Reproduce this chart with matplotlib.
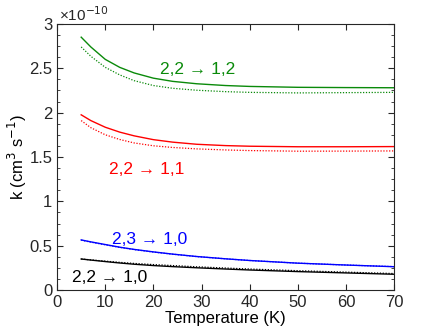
import matplotlib.pyplot as plt
from matplotlib.ticker import MultipleLocator, FormatStrFormatter

plt.rcParams['font.family'] = ['Liberation Sans', 'DejaVu Sans']

# rate coefficients in units of 1e-10 cm^3 s^-1
T = [5, 7, 10, 13, 16, 20, 24, 29, 35, 40, 50, 60, 70]
k_22_12 = [2.85, 2.74, 2.60, 2.51, 2.447, 2.388, 2.352, 2.325, 2.305, 2.295, 2.285, 2.282, 2.28]
k_22_12_dot = [2.74, 2.635, 2.51, 2.425, 2.36, 2.305, 2.274, 2.252, 2.236, 2.228, 2.222, 2.225, 2.228]
k_22_11 = [1.975, 1.91, 1.835, 1.78, 1.738, 1.695, 1.667, 1.643, 1.628, 1.621, 1.615, 1.615, 1.617]
k_22_11_dot = [1.91, 1.83, 1.75, 1.697, 1.658, 1.626, 1.607, 1.591, 1.579, 1.572, 1.565, 1.566, 1.568]
k_23_10 = [0.565, 0.543, 0.513, 0.483, 0.458, 0.43, 0.405, 0.378, 0.352, 0.333, 0.303, 0.282, 0.263]
k_23_10_dot = [0.562, 0.54, 0.51, 0.481, 0.456, 0.428, 0.404, 0.377, 0.352, 0.333, 0.303, 0.282, 0.264]
k_22_10 = [0.35, 0.338, 0.321, 0.305, 0.291, 0.276, 0.264, 0.251, 0.237, 0.226, 0.208, 0.193, 0.178]
k_22_10_dot = [0.35, 0.34, 0.326, 0.312, 0.30, 0.287, 0.276, 0.262, 0.248, 0.237, 0.218, 0.202, 0.186]

fig = plt.figure(figsize=(4.36, 3.27), dpi=100)
ax = fig.add_axes([0.131, 0.113, 0.773, 0.814])

green = '#0a8a0a'
dots = (0, (1, 1.3))
ax.plot(T, k_22_12, '-', color=green, lw=1)
ax.plot(T, k_22_12_dot, linestyle=dots, color=green, lw=0.9)
ax.plot(T, k_22_11, '-', color='red', lw=1)
ax.plot(T, k_22_11_dot, linestyle=dots, color='red', lw=0.9)
ax.plot(T, k_23_10, '-', color='blue', lw=1)
ax.plot(T, k_23_10_dot, linestyle=dots, color='blue', lw=0.9)
ax.plot(T, k_22_10, '-', color='black', lw=1)
ax.plot(T, k_22_10_dot, linestyle=dots, color='black', lw=0.9)

fs = 12
afs = 12.5
ax.text(29.1, 2.49, '2,2 \u2192 1,2', color=green, fontsize=afs, ha='center', va='center')
ax.text(18.7, 1.36, '2,2 \u2192 1,1', color='red', fontsize=afs, ha='center', va='center')
ax.text(19.3, 0.575, '2,3 \u2192 1,0', color='blue', fontsize=afs, ha='center', va='center')
ax.text(11.0, 0.147, '2,2 \u2192 1,0', color='black', fontsize=afs, ha='center', va='center')

ax.set_xlim(0, 70)
ax.set_ylim(0, 3)
ax.xaxis.set_major_locator(MultipleLocator(10))
ax.yaxis.set_major_locator(MultipleLocator(0.5))
ax.yaxis.set_minor_locator(MultipleLocator(0.125))
ax.yaxis.set_major_formatter(FormatStrFormatter('%g'))
ax.tick_params(which='both', direction='in', top=True, right=True, labelsize=fs, colors='#262626')
ax.tick_params(which='major', length=4)
ax.tick_params(which='minor', length=2.5)
for s in ax.spines.values():
    s.set_color('#262626')
    s.set_linewidth(0.8)

ax.set_xlabel('Temperature (K)', fontsize=fs, labelpad=1)
ax.set_ylabel('k (cm$^3$ s$^{-1}$)', fontsize=fs, labelpad=0)
ax.text(0.005, 1.0, '\u00d710$^{-10}$', transform=ax.transAxes, fontsize=11, va='bottom', ha='left', color='#262626')

fig.savefig('out.png', dpi=100)
